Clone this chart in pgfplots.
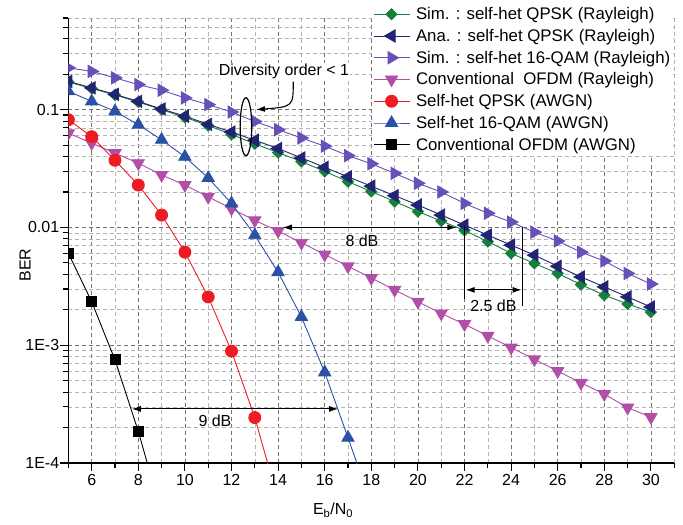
\documentclass[border=0pt]{standalone}
\usepackage{fontspec}
\setmainfont{Liberation Sans}
\usepackage{pgfplots}
\pgfplotsset{compat=1.18}
\usetikzlibrary{arrows.meta}
\definecolor{cgreen}{RGB}{20,128,60}
\definecolor{cnavy}{RGB}{35,35,115}
\definecolor{cpurple}{RGB}{105,80,185}
\definecolor{cmag}{RGB}{178,78,168}
\definecolor{cred}{RGB}{237,28,36}
\definecolor{cblue}{RGB}{43,80,165}
\newcommand{\fs}{\fontsize{16bp}{19bp}\selectfont}
\newcommand{\fl}{\fontsize{16.8bp}{20bp}\selectfont}
\begin{document}
\begin{tikzpicture}
\path[use as bounding box] (-68.4bp,-62bp) rectangle (614.6bp,463bp);
\begin{axis}[
  at={(0,0)}, anchor=south west,
  scale only axis, width=605.8bp, height=445bp,
  xmin=5, xmax=31, ymode=log, ymin=1e-4, ymax=0.6,
  axis x line*=bottom, axis y line*=left,
  axis line style={line width=1.3bp},
  xtick={6,8,...,30}, minor xtick={5,7,...,31},
  ytick={1e-4,1e-3,1e-2,1e-1}, yticklabels={1E-4,1E-3,0.01,0.1},
  minor ytick={2e-4,3e-4,4e-4,5e-4,6e-4,7e-4,8e-4,9e-4,2e-3,3e-3,4e-3,5e-3,6e-3,7e-3,8e-3,9e-3,0.02,0.03,0.04,0.05,0.06,0.07,0.08,0.09,0.2,0.3,0.4,0.5,0.6},
  grid=both,
  major grid style={dash pattern=on 4bp off 3bp, black!55, line width=0.6bp},
  minor grid style={dash pattern=on 4bp off 3bp, black!30, line width=0.6bp},
  tick align=outside, major tick length=8bp, minor tick length=5bp,
  tick style={black, line width=1.1bp},
  clip marker paths=true,
  /pgf/number format/assume math mode=true,
  tick label style={font=\fs},
  yticklabel style={inner xsep=1bp},
  xlabel={E\textsubscript{b}/N\textsubscript{0}},
  xlabel style={at={(axis description cs:0.437,-0.106)}, anchor=center, font=\fs},
  ylabel={BER},
  ylabel style={at={(axis description cs:-0.0716,0.445)}, anchor=center, font=\fs},
  legend style={at={(0.501,1.031)}, anchor=north west, draw=none, fill=white,
    font=\fl, row sep=4.1bp, inner sep=1bp, cells={anchor=west}},
  legend image code/.code={\draw[mark repeat=2,mark phase=2,#1] plot coordinates {(0bp,0bp) (18bp,0bp) (36bp,0bp)}; \path (40bp,0bp);},
  every axis plot/.append style={line width=0.9bp},
]
\addplot[color=cgreen, mark=square*, mark size=3.9bp, mark options={solid, rotate=45, fill=cgreen}] coordinates {
(5,0.1718) (6,0.1514) (7,0.1334) (8,0.1161) (9,0.1) (10,0.0861) (11,0.0733) (12,0.0617) (13,0.0513) (14,0.0432) (15,0.0363) (16,0.0299) (17,0.0245) (18,0.0202) (19,0.0166) (20,0.01365) (21,0.01135) (22,0.00944) (23,0.00759) (24,0.00603) (25,0.00495) (26,0.00407) (27,0.00327) (28,0.00266) (29,0.00224) (30,0.00191)};
\addlegendentry{Sim. : self-het QPSK (Rayleigh)}
\addplot[color=cnavy, mark=triangle*, mark size=7bp, mark options={solid, rotate=90, fill=cnavy}] coordinates {
(5,0.1738) (6,0.1531) (7,0.1349) (8,0.1175) (9,0.1012) (10,0.0881) (11,0.0750) (12,0.0646) (13,0.0550) (14,0.0468) (15,0.0389) (16,0.0324) (17,0.0269) (18,0.0224) (19,0.0186) (20,0.0155) (21,0.01274) (22,0.01047) (23,0.00861) (24,0.00708) (25,0.00582) (26,0.00468) (27,0.00380) (28,0.00313) (29,0.00257) (30,0.00211)};
\addlegendentry{Ana. : self-het QPSK (Rayleigh)}
\addplot[color=cpurple, mark=triangle*, mark size=7bp, mark options={solid, rotate=-90, fill=cpurple}] coordinates {
(5,0.2265) (6,0.2113) (7,0.1862) (8,0.1633) (9,0.1462) (10,0.1259) (11,0.1104) (12,0.0955) (13,0.0794) (14,0.0676) (15,0.0575) (16,0.0490) (17,0.0407) (18,0.0347) (19,0.0288) (20,0.0237) (21,0.0200) (22,0.0160) (23,0.0132) (24,0.0111) (25,0.00912) (26,0.00767) (27,0.00617) (28,0.00519) (29,0.00407) (30,0.00331)};
\addlegendentry{Sim. : self-het 16-QAM (Rayleigh)}
\addplot[color=cmag, mark=triangle*, mark size=7bp, mark options={solid, rotate=180, fill=cmag}] coordinates {
(5,0.0631) (6,0.0520) (7,0.0427) (8,0.0351) (9,0.0279) (10,0.0229) (11,0.0182) (12,0.01445) (13,0.01148) (14,0.00933) (15,0.00741) (16,0.00589) (17,0.00468) (18,0.00372) (19,0.00295) (20,0.00234) (21,0.00186) (22,0.00151) (23,0.00120) (24,0.000955) (25,0.000759) (26,0.000603) (27,0.000479) (28,0.000385) (29,0.000295) (30,0.000245)};
\addlegendentry{Conventional~ OFDM (Rayleigh)}
\addplot[color=cred, mark=*, mark size=6bp, mark options={solid, fill=cred}] coordinates {
(5,0.0822) (6,0.0589) (7,0.0372) (8,0.0229) (9,0.01274) (10,0.00617) (11,0.00257) (12,0.000891) (13,0.000243) (14,0.0000484)};
\addlegendentry{Self-het QPSK (AWGN)}
\addplot[color=cblue, mark=triangle*, mark size=7bp, mark options={solid, fill=cblue}] coordinates {
(5,0.1432) (6,0.1175) (7,0.0968) (8,0.0745) (9,0.0555) (10,0.0398) (11,0.0263) (12,0.0160) (13,0.00859) (14,0.00417) (15,0.00174) (16,0.000589) (17,0.000164) (18,0.0000447)};
\addlegendentry{Self-het 16-QAM (AWGN)}
\addplot[color=black, mark=square*, mark size=5bp, mark options={solid, fill=black}] coordinates {
(5,0.00603) (6,0.00234) (7,0.00075) (8,0.000186) (9,0.000037)};
\addlegendentry{Conventional OFDM (AWGN)}
% annotations
\node[font=\fs, fill=white, inner sep=1bp] at (axis cs:14.25,0.211) {Diversity order < 1};
\draw[line width=1.2bp] (axis cs:12.62,0.0716) ellipse [x radius=5.8bp, y radius=29bp];
\draw[line width=1.1bp, -{Latex[length=9bp,width=6bp]}] (axis cs:14.65,0.173) .. controls (axis cs:14.65,0.106) .. (axis cs:13.05,0.1);
\draw[line width=1.1bp, {Latex[length=9bp,width=6bp]}-{Latex[length=9bp,width=6bp]}] (axis cs:14.2,0.01) -- (axis cs:21.65,0.01);
\node[font=\fs] at (axis cs:17.6,0.00764) {8 dB};
\draw[line width=1.1bp] (axis cs:22,0.0102) -- (axis cs:22,0.00248);
\draw[line width=1.1bp] (axis cs:24.5,0.01) -- (axis cs:24.5,0.00214);
\draw[line width=1.1bp, {Latex[length=9bp,width=6bp]}-{Latex[length=9bp,width=6bp]}] (axis cs:22.05,0.00295) -- (axis cs:24.45,0.00295);
\node[font=\fs] at (axis cs:23.24,0.00218) {2.5 dB};
\draw[line width=1.1bp, {Latex[length=9bp,width=6bp]}-{Latex[length=9bp,width=6bp]}] (axis cs:7.72,0.000288) -- (axis cs:16.58,0.000288);
\node[font=\fs] at (axis cs:11.29,0.000227) {9 dB};
\end{axis}
\end{tikzpicture}
\end{document}
